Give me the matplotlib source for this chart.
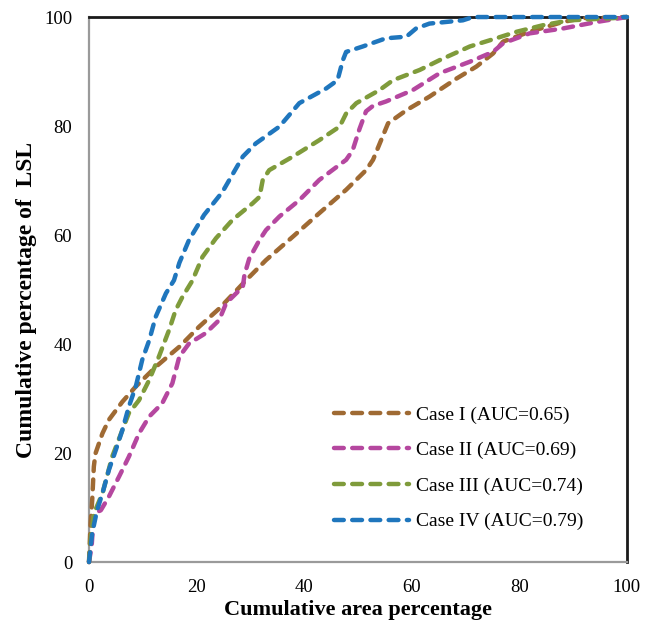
"""
Cumulative percentage of LSL versus cumulative area percentage (success-rate curves).
"""

import matplotlib
matplotlib.use("Agg")
import matplotlib.pyplot as plt

# Case I (AUC=0.65)
case1_x = [0, 0.3, 0.6, 0.9, 1.2, 2.5, 3.7, 6.2, 8.7, 12.4, 16.8, 20.5, 24.2, 29.2, 32.9,
           37.9, 42.8, 47.8, 51.5, 52.8, 54.3, 55.6, 59.0, 63.3, 68.3, 72.0, 75.1, 77.0,
           81.9, 88.1, 91.8, 100]
case1_y = [0, 7.1, 11.4, 17.5, 19.9, 23.6, 26.1, 29.4, 32.2, 35.8, 39.5, 43.2, 46.5, 51.7,
           55.4, 59.7, 64.0, 68.3, 71.9, 73.8, 77.4, 80.5, 82.9, 85.4, 88.7, 90.9, 93.3,
           95.5, 97.3, 99.1, 99.8, 100]

# Case II (AUC=0.69)
case2_x = [0, 0.5, 0.9, 2.2, 3.7, 5.6, 7.4, 9.3, 11.2, 13.6, 15.5, 16.8, 18.6, 21.7, 24.2,
           25.5, 28.6, 28.9, 29.8, 31.7, 32.9, 35.4, 39.1, 42.8, 47.8, 49.0, 50.3, 51.5,
           52.8, 55.2, 60.2, 65.2, 70.8, 75.1, 77.0, 81.9, 88.1, 94.4, 100]
case2_y = [0, 3.0, 8.9, 9.5, 12.0, 15.7, 19.3, 23.6, 26.7, 29.1, 32.8, 37.7, 40.1, 42.0,
           44.4, 47.5, 50.5, 52.7, 55.7, 59.1, 60.9, 63.4, 66.4, 70.1, 73.8, 75.5, 79.5,
           82.7, 83.7, 84.5, 86.6, 89.7, 91.8, 93.6, 95.2, 97.0, 97.9, 99.1, 100]

# Case III (AUC=0.74)
case3_x = [0, 0.4, 0.9, 2.5, 4.3, 6.2, 7.4, 9.3, 11.2, 13.0, 14.9, 16.1, 17.4, 19.2, 21.1,
           23.6, 26.7, 30.4, 31.7, 32.3, 33.5, 37.9, 42.8, 46.6, 47.8, 49.7, 54.0, 56.5,
           61.5, 65.2, 70.8, 75.7, 79.5, 84.4, 89.4, 97.5, 100]
case3_y = [0, 5.0, 8.9, 12.6, 19.3, 24.2, 27.3, 29.7, 33.4, 37.7, 42.6, 46.2, 48.7, 51.6,
           56.0, 59.4, 62.8, 65.8, 67.0, 70.1, 71.9, 74.4, 77.4, 79.9, 82.3, 84.2, 86.6,
           88.4, 90.3, 92.1, 94.6, 96.1, 97.3, 98.5, 99.4, 99.8, 100]

# Case IV (AUC=0.79)
case4_x = [0, 0.6, 1.5, 2.5, 3.7, 5.0, 6.2, 7.4, 8.7, 9.9, 11.2, 12.4, 14.3, 15.8, 16.8,
           18.6, 21.4, 24.8, 28.6, 31.0, 35.4, 39.1, 44.1, 46.2, 47.2, 47.8, 50.9, 55.2,
           59.0, 60.8, 63.3, 69.5, 71.4, 100]
case4_y = [0, 5.3, 9.5, 12.6, 16.9, 20.6, 24.2, 28.5, 32.2, 37.1, 40.7, 45.0, 49.3, 51.7,
           54.9, 59.1, 63.7, 67.9, 74.4, 76.8, 79.9, 84.2, 86.9, 88.4, 92.1, 93.6, 94.6,
           96.1, 96.4, 97.9, 98.8, 99.4, 100, 100]

labels = ["Case I (AUC=0.65)", "Case II (AUC=0.69)", "Case III (AUC=0.74)", "Case IV (AUC=0.79)"]
colors = ["#9f6a33", "#b5479f", "#7f9b3b", "#1f76bd"]
ticks = [0, 20, 40, 60, 80, 100]

plt.rcParams["font.family"] = ["Liberation Serif", "DejaVu Serif"]

fig = plt.figure(figsize=(6.51, 6.31), dpi=100)
ax = fig.add_axes([0.1367, 0.1093, 0.8263, 0.8637])

series = [(case1_x, case1_y), (case2_x, case2_y), (case3_x, case3_y), (case4_x, case4_y)]
for (xs, ys), label, color in zip(series, labels, colors):
    ax.plot(xs, ys, color=color, linewidth=3.2, linestyle=(0, (2.2, 1.9)),
            dash_capstyle="round", label=label, clip_on=False, zorder=3)

ax.set_xlim(0, 100)
ax.set_ylim(0, 100)
ax.set_xticks(ticks)
ax.set_yticks(ticks)
ax.tick_params(length=0, labelsize=13.5, pad=12)

# Excel-like frame: grey axis lines, dark plot border
for side in ["left", "bottom"]:
    ax.spines[side].set_color("#9a9a9a")
    ax.spines[side].set_linewidth(1.6)
for side in ["top", "right"]:
    ax.spines[side].set_color("#1a1a1a")
    ax.spines[side].set_linewidth(2.0)

ax.set_xlabel("Cumulative area percentage", fontsize=16, fontweight="bold", labelpad=3)
ax.set_ylabel("Cumulative percentage of  LSL", fontsize=17, fontweight="bold")
ax.yaxis.set_label_coords(-0.097, 0.481)

ax.legend(loc="center left", bbox_to_anchor=(0.441, 0.172), frameon=False, fontsize=14,
          handlelength=3.85, handletextpad=0.36, labelspacing=0.92,
          borderpad=0.4, borderaxespad=0)

fig.savefig("out.png", dpi=100)
